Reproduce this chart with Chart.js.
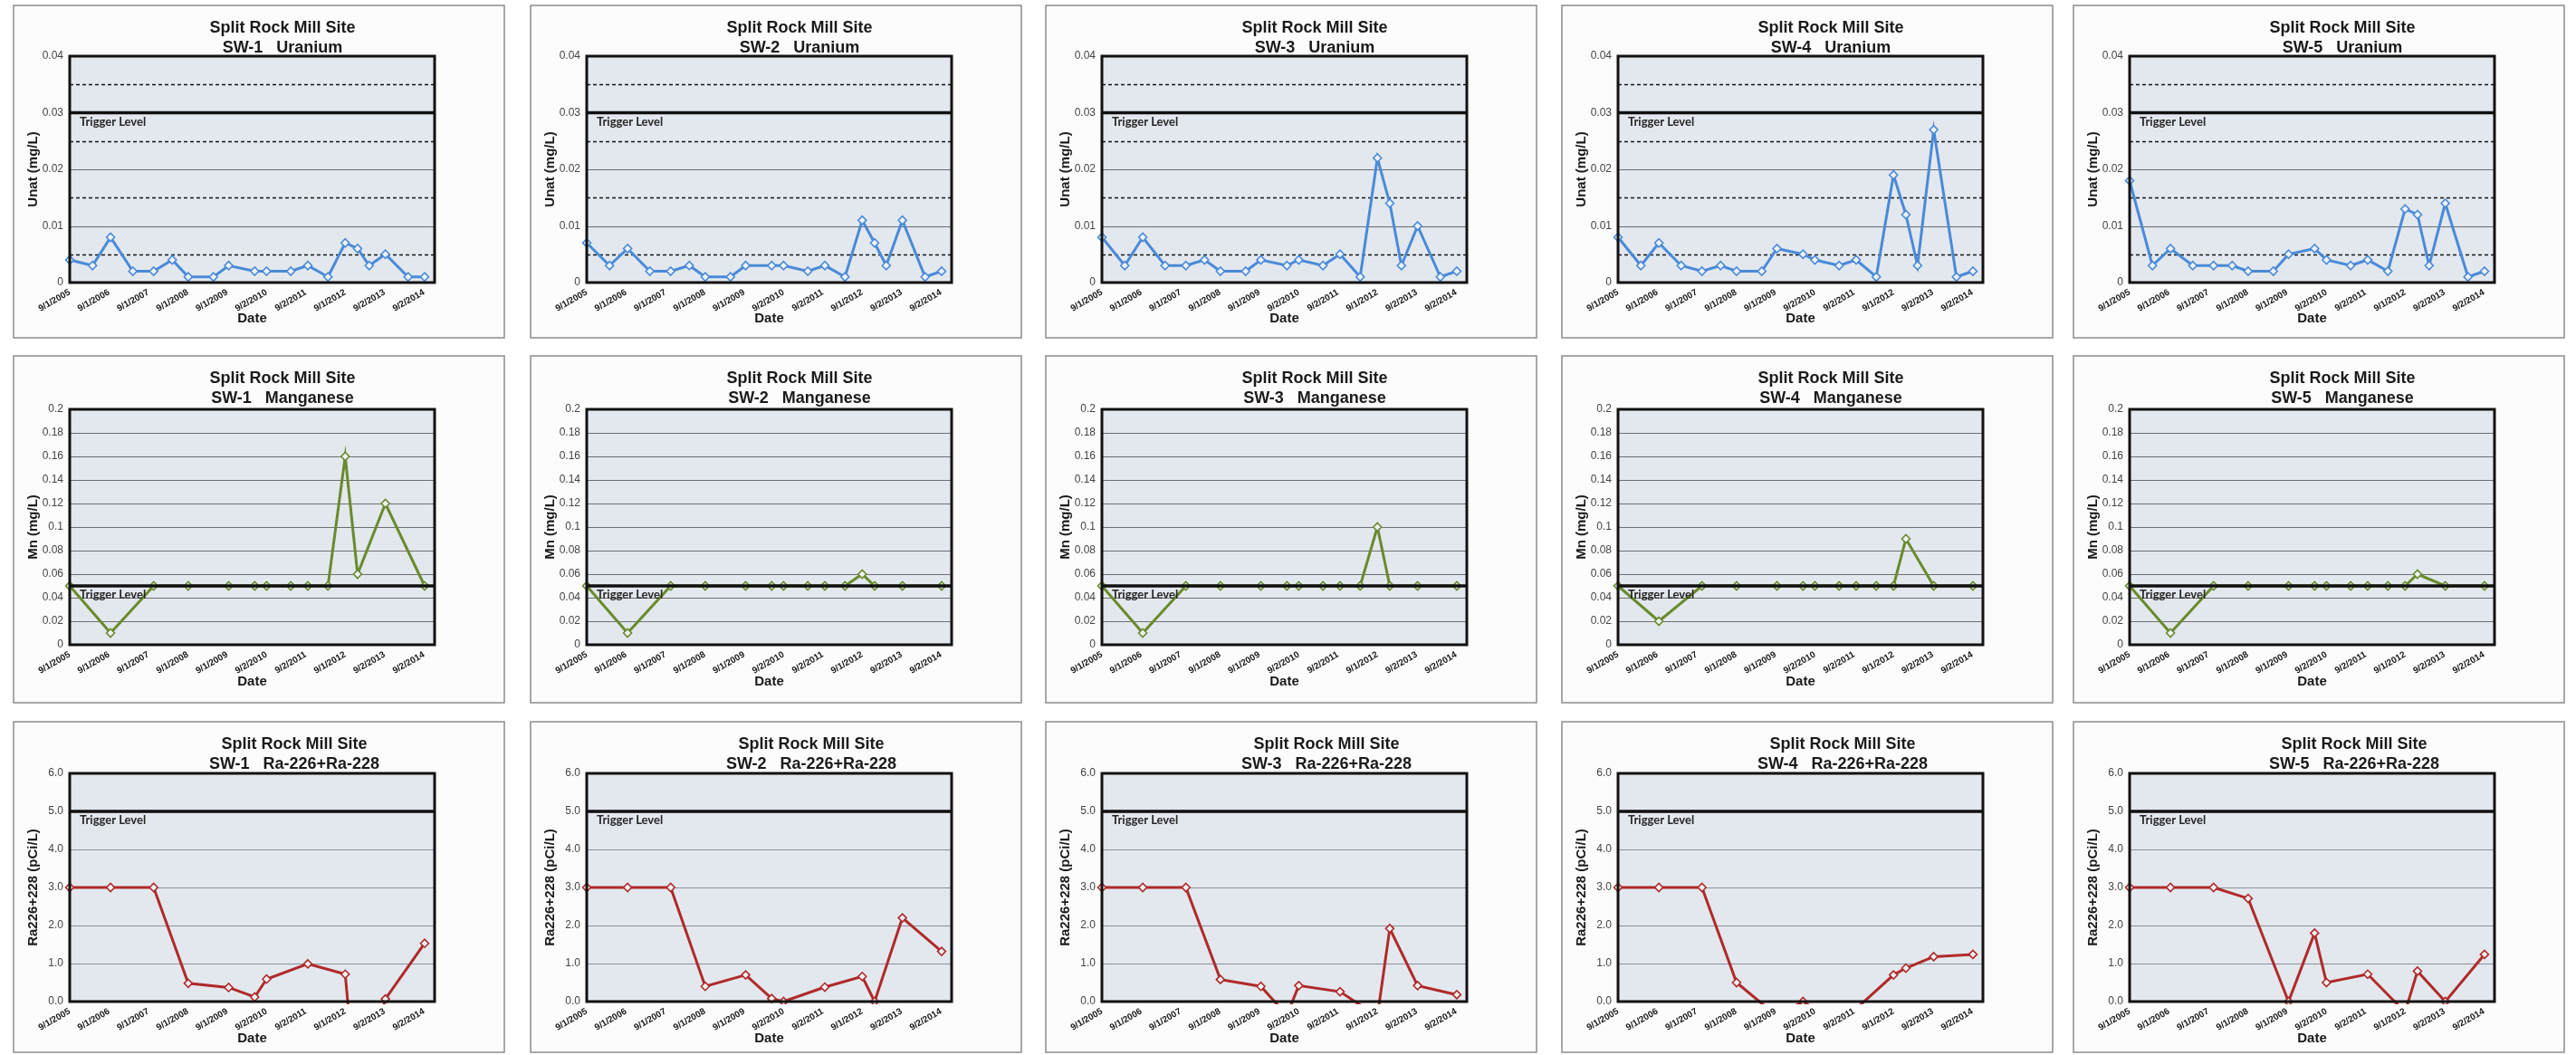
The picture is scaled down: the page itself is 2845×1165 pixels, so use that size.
<!DOCTYPE html>
<html>
<head>
<meta charset="utf-8">
<script src="https://cdn.jsdelivr.net/npm/chart.js@4.4.1/dist/chart.umd.min.js"></script>
<style>
  html, body { margin: 0; padding: 0; background: #fff; }
  body { width: 2845px; height: 1165px; position: relative; overflow: hidden; }
  canvas { position: absolute; }
</style>
</head>
<body>
<script>
const sites = ['SW-1', 'SW-2', 'SW-3', 'SW-4', 'SW-5'];
const xTickLabels = ['9/1/2005', '9/1/2006', '9/1/2007', '9/1/2008', '9/1/2009', '9/2/2010', '9/2/2011', '9/1/2012', '9/2/2013', '9/2/2014'];

// uranium, mg/L
const uDates = ['9/1/2005', '4/1/2006', '9/15/2006', '4/10/2007', '10/20/2007', '4/10/2008', '9/5/2008', '4/27/2009', '9/15/2009', '5/15/2010',
  '9/2/2010', '4/15/2011', '9/20/2011', '3/25/2012', '9/1/2012', '12/25/2012', '4/12/2013', '9/9/2013', '4/8/2014', '9/8/2014'];
const uSW1 = [0.004, 0.003, 0.008, 0.002, 0.002, 0.004, 0.001, 0.001, 0.003, 0.002, 0.002, 0.002, 0.003, 0.001, 0.007, 0.006, 0.003, 0.005, 0.001, 0.001];
const uSW2 = [0.007, 0.003, 0.006, 0.002, 0.002, 0.003, 0.001, 0.001, 0.003, 0.003, 0.003, 0.002, 0.003, 0.001, 0.011, 0.007, 0.003, 0.011, 0.001, 0.002];
const uSW3 = [0.008, 0.003, 0.008, 0.003, 0.003, 0.004, 0.002, 0.002, 0.004, 0.003, 0.004, 0.003, 0.005, 0.001, 0.022, 0.014, 0.003, 0.010, 0.001, 0.002];
const uSW4 = [0.008, 0.003, 0.007, 0.003, 0.002, 0.003, 0.002, 0.002, 0.006, 0.005, 0.004, 0.003, 0.004, 0.001, 0.019, 0.012, 0.003, 0.027, 0.001, 0.002];
const uSW5 = [0.018, 0.003, 0.006, 0.003, 0.003, 0.003, 0.002, 0.002, 0.005, 0.006, 0.004, 0.003, 0.004, 0.002, 0.013, 0.012, 0.003, 0.014, 0.001, 0.002];

// manganese, mg/L
const mnDates = ['9/1/2005', '9/15/2006', '10/20/2007', '9/5/2008', '9/15/2009', '5/15/2010', '9/2/2010', '4/15/2011', '9/20/2011', '3/25/2012',
  '9/1/2012', '12/25/2012', '9/9/2013', '9/8/2014'];
const mnSW1 = [0.05, 0.01, 0.05, 0.05, 0.05, 0.05, 0.05, 0.05, 0.05, 0.05, 0.16, 0.06, 0.12, 0.05];
const mnSW2 = [0.05, 0.01, 0.05, 0.05, 0.05, 0.05, 0.05, 0.05, 0.05, 0.05, 0.06, 0.05, 0.05, 0.05];
const mnSW3 = [0.05, 0.01, 0.05, 0.05, 0.05, 0.05, 0.05, 0.05, 0.05, 0.05, 0.10, 0.05, 0.05, 0.05];
const mnSW4 = [0.05, 0.02, 0.05, 0.05, 0.05, 0.05, 0.05, 0.05, 0.05, 0.05, 0.05, 0.09, 0.05, 0.05];
const mnSW5 = [0.05, 0.01, 0.05, 0.05, 0.05, 0.05, 0.05, 0.05, 0.05, 0.05, 0.05, 0.06, 0.05, 0.05];

// Ra-226 + Ra-228, pCi/L (below-zero results run off the bottom of the plot)
const raDates = ['9/1/2005', '9/15/2006', '10/20/2007', '9/5/2008', '9/15/2009', '5/15/2010', '9/2/2010', '9/20/2011', '9/1/2012', '12/25/2012', '9/9/2013', '9/8/2014'];
const raSW1 = [3.0, 3.0, 3.0, 0.48, 0.37, 0.12, 0.59, 0.99, 0.72, -2.8, 0.07, 1.53];
const raSW2 = [3.0, 3.0, 3.0, 0.40, 0.70, 0.08, 0.0, 0.38, 0.66, 0.0, 2.2, 1.32];
const raSW3 = [3.0, 3.0, 3.0, 0.58, 0.40, -0.36, 0.42, 0.26, -0.39, 1.92, 0.42, 0.18];
const raSW4 = [3.0, 3.0, 3.0, 0.50, -0.38, 0.0, -0.2, -0.19, 0.70, 0.88, 1.18, 1.24];
const raSW5 = [3.0, 3.0, 3.0, 2.71, 0.0, 1.8, 0.5, 0.72, -0.28, 0.8, 0.0, 1.24];

const SANS = '"Liberation Sans", Arial, sans-serif';
const colLeft = [14, 585, 1154, 1724, 2289];
const boxW = 544;

const toDay = s => {
  const p = s.split('/').map(Number);
  return Date.UTC(p[2], p[0] - 1, p[1]) / 86400000;
};

const rows = [
  {
    name: 'Uranium', dates: uDates, series: [uSW1, uSW2, uSW3, uSW4, uSW5], color: '#4a8ad8',
    yTitle: 'Unat (mg/L)', max: 0.04, step: 0.005, trigger: 0.03,
    top: 5, h: 369, plotTop: 57, plotBottom: 307, dateY: 347, titleX: 298,
    label: v => (Math.round(v * 1000) % 10 === 0 ? String(+v.toFixed(2)) : ''),
    grid: v => (Math.round(v * 1000) % 10 === 5
      ? { color: '#151515', width: 1.4, dash: [4, 3] }
      : { color: '#6a6a6a', width: 1.1, dash: [] })
  },
  {
    name: 'Manganese', dates: mnDates, series: [mnSW1, mnSW2, mnSW3, mnSW4, mnSW5], color: '#6a8a2c',
    yTitle: 'Mn (mg/L)', max: 0.2, step: 0.02, trigger: 0.05,
    top: 392, h: 385, plotTop: 60, plotBottom: 320, dateY: 361, titleX: 298,
    label: v => String(+v.toFixed(2)),
    grid: () => ({ color: '#6e6e6e', width: 1.2, dash: [] })
  },
  {
    name: 'Ra-226+Ra-228', dates: raDates, series: [raSW1, raSW2, raSW3, raSW4, raSW5], color: '#b02a2a',
    yTitle: 'Ra226+228 (pCi/L)', max: 6, step: 1, trigger: 5,
    top: 796, h: 367, plotTop: 58, plotBottom: 310, dateY: 351, titleX: 311,
    label: v => v.toFixed(1),
    grid: () => ({ color: '#8a919e', width: 1.2, dash: [] })
  }
];

const panelPlugin = {
  id: 'panel',
  beforeDraw(chart, args, o) {
    const { ctx, chartArea: a, width, height } = chart;
    ctx.save();
    ctx.fillStyle = '#fcfcfc';
    ctx.fillRect(0, 0, width, height);
    ctx.strokeStyle = '#8c8c8c';
    ctx.lineWidth = 1.5;
    ctx.strokeRect(1, 1, width - 2, height - 2);
    ctx.fillStyle = '#e3e8ee';
    ctx.fillRect(a.left, a.top, a.right - a.left, a.bottom - a.top);
    ctx.fillStyle = '#1a1a1a';
    ctx.font = 'bold 18px ' + SANS;
    ctx.textAlign = 'center';
    ctx.textBaseline = 'alphabetic';
    ctx.fillText(o.title[0], o.titleX, 31);
    ctx.fillText(o.title[1], o.titleX, 53);
    ctx.restore();
  },
  beforeDatasetsDraw(chart, args, o) {
    const { ctx, chartArea: a } = chart;
    const ys = chart.scales.y;
    ctx.save();
    for (const t of ys.ticks) {
      const v = t.value;
      if (v <= 1e-9 || v >= o.max - 1e-9 || Math.abs(v - o.trigger) < 1e-9) continue;
      const g = o.grid(v);
      const y = Math.round(ys.getPixelForValue(v)) + 0.5;
      ctx.strokeStyle = g.color;
      ctx.lineWidth = g.width;
      ctx.setLineDash(g.dash);
      ctx.beginPath();
      ctx.moveTo(a.left, y);
      ctx.lineTo(a.right, y);
      ctx.stroke();
    }
    ctx.restore();
  },
  afterDatasetsDraw(chart, args, o) {
    const { ctx, chartArea: a } = chart;
    const ty = chart.scales.y.getPixelForValue(o.trigger);
    ctx.save();
    ctx.strokeStyle = '#111';
    ctx.lineWidth = 3.5;
    ctx.beginPath();
    ctx.moveTo(a.left, ty);
    ctx.lineTo(a.right, ty);
    ctx.stroke();
    ctx.lineWidth = 3;
    ctx.strokeRect(a.left, a.top, a.right - a.left, a.bottom - a.top);
    ctx.fillStyle = '#262626';
    ctx.font = 'bold 13px Lato, "Open Sans", sans-serif';
    ctx.textAlign = 'left';
    ctx.textBaseline = 'middle';
    ctx.fillText('Trigger Level', a.left + 11, ty + 10);
    ctx.restore();
  }
};

rows.forEach(row => {
  const padBottom = row.h - row.dateY - 9;
  const xHeight = row.h - padBottom - row.plotBottom;
  sites.forEach((site, c) => {
    const canvas = document.createElement('canvas');
    canvas.width = boxW;
    canvas.height = row.h;
    canvas.style.left = colLeft[c] + 'px';
    canvas.style.top = row.top + 'px';
    document.body.appendChild(canvas);

    const vals = row.series[c];
    const points = row.dates.map((d, i) => ({ x: toDay(d), y: vals[i] }));

    new Chart(canvas, {
      type: 'line',
      data: {
        datasets: [{
          data: points,
          borderColor: row.color,
          borderWidth: 3,
          tension: 0,
          pointStyle: 'rectRot',
          pointRadius: ctx => (ctx.raw && ctx.raw.y < 0 ? 0 : 4.5),
          pointBackgroundColor: '#eef2f6',
          pointBorderColor: row.color,
          pointBorderWidth: 1.6,
          clip: { left: 8, right: 8, top: 8, bottom: 3 }
        }]
      },
      options: {
        responsive: false,
        animation: false,
        events: [],
        layout: { padding: { left: 14, right: 78, top: row.plotTop, bottom: padBottom } },
        plugins: {
          legend: { display: false },
          tooltip: { enabled: false },
          panel: {
            title: ['Split Rock Mill Site', site + '   ' + row.name],
            titleX: row.titleX,
            trigger: row.trigger,
            max: row.max,
            grid: row.grid
          }
        },
        scales: {
          x: {
            type: 'linear',
            min: toDay('9/1/2005'),
            max: toDay('12/10/2014'),
            afterBuildTicks: s => { s.ticks = xTickLabels.map(l => ({ value: toDay(l) })); },
            afterFit: s => { s.height = xHeight; },
            ticks: {
              autoSkip: false,
              minRotation: 30,
              maxRotation: 30,
              padding: 5,
              color: '#1a1a1a',
              font: { family: SANS, size: 10, weight: 'bold' },
              callback: (v, i) => xTickLabels[i]
            },
            grid: { display: false, drawTicks: false },
            border: { display: false },
            title: { display: true, text: 'Date', color: '#1a1a1a', padding: 0, font: { family: SANS, size: 15, weight: 'bold' } }
          },
          y: {
            min: 0,
            max: row.max,
            afterFit: s => { s.width = 49; },
            ticks: {
              stepSize: row.step,
              padding: 7,
              color: '#444',
              font: { family: SANS, size: 12 },
              callback: v => row.label(v)
            },
            grid: { display: false, drawTicks: false },
            border: { display: false },
            title: { display: true, text: row.yTitle, color: '#1a1a1a', padding: 0, font: { family: SANS, size: 15, weight: 'bold' } }
          }
        }
      },
      plugins: [panelPlugin]
    });
  });
});
</script>
</body>
</html>
